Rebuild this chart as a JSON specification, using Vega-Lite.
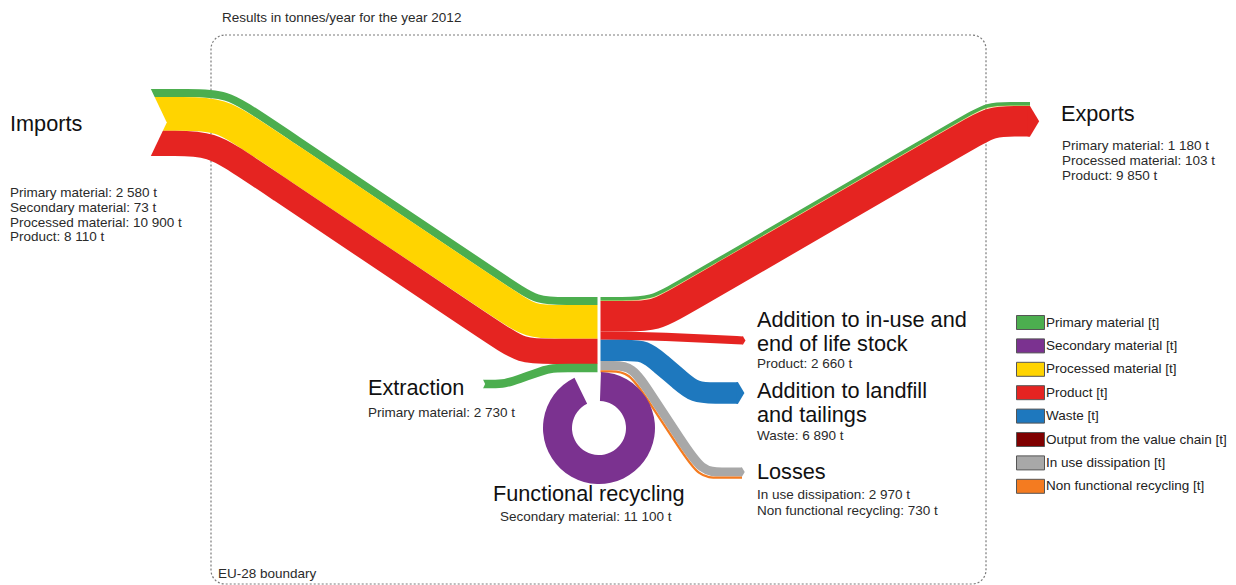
{
  "$schema": "https://vega.github.io/schema/vega-lite/v6.json",
  "width": 1236,
  "height": 585,
  "autosize": {"type": "none"},
  "padding": 0,
  "background": "white",
  "config": {"view": {"stroke": null}, "font": "Liberation Sans"},
  "datasets": {
    "flows": [
      {"flow": "imp_g", "cat": "Primary material [t]", "t": 2580, "i": 0, "x": 150, "y": 93},
      {"flow": "imp_g", "cat": "Primary material [t]", "t": 2580, "i": 1, "x": 186.8, "y": 93},
      {"flow": "imp_g", "cat": "Primary material [t]", "t": 2580, "i": 2, "x": 226.8, "y": 93},
      {"flow": "imp_g", "cat": "Primary material [t]", "t": 2580, "i": 3, "x": 260, "y": 115.3},
      {"flow": "imp_g", "cat": "Primary material [t]", "t": 2580, "i": 4, "x": 511.9, "y": 284.3},
      {"flow": "imp_g", "cat": "Primary material [t]", "t": 2580, "i": 5, "x": 536.8, "y": 301},
      {"flow": "imp_g", "cat": "Primary material [t]", "t": 2580, "i": 6, "x": 566.8, "y": 301},
      {"flow": "imp_g", "cat": "Primary material [t]", "t": 2580, "i": 7, "x": 597.5, "y": 301},
      {"flow": "imp_y", "cat": "Processed material [t]", "t": 10900, "i": 0, "x": 150, "y": 113.9},
      {"flow": "imp_y", "cat": "Processed material [t]", "t": 10900, "i": 1, "x": 180.5, "y": 113.9},
      {"flow": "imp_y", "cat": "Processed material [t]", "t": 10900, "i": 2, "x": 220.5, "y": 113.9},
      {"flow": "imp_y", "cat": "Processed material [t]", "t": 10900, "i": 3, "x": 253.7, "y": 136.2},
      {"flow": "imp_y", "cat": "Processed material [t]", "t": 10900, "i": 4, "x": 505.6, "y": 305.2},
      {"flow": "imp_y", "cat": "Processed material [t]", "t": 10900, "i": 5, "x": 530.5, "y": 321.9},
      {"flow": "imp_y", "cat": "Processed material [t]", "t": 10900, "i": 6, "x": 560.5, "y": 321.9},
      {"flow": "imp_y", "cat": "Processed material [t]", "t": 10900, "i": 7, "x": 597.5, "y": 321.9},
      {"flow": "imp_r", "cat": "Product [t]", "t": 8110, "i": 0, "x": 150, "y": 143.4},
      {"flow": "imp_r", "cat": "Product [t]", "t": 8110, "i": 1, "x": 171.5, "y": 143.4},
      {"flow": "imp_r", "cat": "Product [t]", "t": 8110, "i": 2, "x": 211.5, "y": 143.4},
      {"flow": "imp_r", "cat": "Product [t]", "t": 8110, "i": 3, "x": 244.7, "y": 165.7},
      {"flow": "imp_r", "cat": "Product [t]", "t": 8110, "i": 4, "x": 496.6, "y": 334.7},
      {"flow": "imp_r", "cat": "Product [t]", "t": 8110, "i": 5, "x": 521.5, "y": 351.4},
      {"flow": "imp_r", "cat": "Product [t]", "t": 8110, "i": 6, "x": 551.5, "y": 351.4},
      {"flow": "imp_r", "cat": "Product [t]", "t": 8110, "i": 7, "x": 597.5, "y": 351.4},
      {"flow": "extr", "cat": "Primary material [t]", "t": 2730, "i": 0, "x": 483, "y": 384},
      {"flow": "extr", "cat": "Primary material [t]", "t": 2730, "i": 1, "x": 490, "y": 384},
      {"flow": "extr", "cat": "Primary material [t]", "t": 2730, "i": 2, "x": 505, "y": 384},
      {"flow": "extr", "cat": "Primary material [t]", "t": 2730, "i": 3, "x": 520, "y": 378.7},
      {"flow": "extr", "cat": "Primary material [t]", "t": 2730, "i": 4, "x": 535, "y": 373.4},
      {"flow": "extr", "cat": "Primary material [t]", "t": 2730, "i": 5, "x": 550, "y": 368.1},
      {"flow": "extr", "cat": "Primary material [t]", "t": 2730, "i": 6, "x": 565, "y": 368.1},
      {"flow": "extr", "cat": "Primary material [t]", "t": 2730, "i": 7, "x": 597.5, "y": 368.1},
      {"flow": "exp_g", "cat": "Primary material [t]", "t": 1180, "i": 0, "x": 600.5, "y": 298.8},
      {"flow": "exp_g", "cat": "Primary material [t]", "t": 1180, "i": 1, "x": 620.5, "y": 298.8},
      {"flow": "exp_g", "cat": "Primary material [t]", "t": 1180, "i": 2, "x": 650.5, "y": 298.8},
      {"flow": "exp_g", "cat": "Primary material [t]", "t": 1180, "i": 3, "x": 676.5, "y": 283.8},
      {"flow": "exp_g", "cat": "Primary material [t]", "t": 1180, "i": 4, "x": 965.1, "y": 116.4},
      {"flow": "exp_g", "cat": "Primary material [t]", "t": 1180, "i": 5, "x": 986.7, "y": 103.8},
      {"flow": "exp_g", "cat": "Primary material [t]", "t": 1180, "i": 6, "x": 1011.7, "y": 103.8},
      {"flow": "exp_g", "cat": "Primary material [t]", "t": 1180, "i": 7, "x": 1030, "y": 103.8},
      {"flow": "exp_y", "cat": "Processed material [t]", "t": 103, "i": 0, "x": 600.5, "y": 300.8},
      {"flow": "exp_y", "cat": "Processed material [t]", "t": 103, "i": 1, "x": 621, "y": 300.8},
      {"flow": "exp_y", "cat": "Processed material [t]", "t": 103, "i": 2, "x": 651, "y": 300.8},
      {"flow": "exp_y", "cat": "Processed material [t]", "t": 103, "i": 3, "x": 677, "y": 285.8},
      {"flow": "exp_y", "cat": "Processed material [t]", "t": 103, "i": 4, "x": 965.6, "y": 118.4},
      {"flow": "exp_y", "cat": "Processed material [t]", "t": 103, "i": 5, "x": 987.2, "y": 105.8},
      {"flow": "exp_y", "cat": "Processed material [t]", "t": 103, "i": 6, "x": 1012.2, "y": 105.8},
      {"flow": "exp_y", "cat": "Processed material [t]", "t": 103, "i": 7, "x": 1030, "y": 105.8},
      {"flow": "exp_r", "cat": "Product [t]", "t": 9850, "i": 0, "x": 600.5, "y": 316.3},
      {"flow": "exp_r", "cat": "Product [t]", "t": 9850, "i": 1, "x": 625.2, "y": 316.3},
      {"flow": "exp_r", "cat": "Product [t]", "t": 9850, "i": 2, "x": 655.2, "y": 316.3},
      {"flow": "exp_r", "cat": "Product [t]", "t": 9850, "i": 3, "x": 681.1, "y": 301.2},
      {"flow": "exp_r", "cat": "Product [t]", "t": 9850, "i": 4, "x": 969.8, "y": 133.8},
      {"flow": "exp_r", "cat": "Product [t]", "t": 9850, "i": 5, "x": 991.4, "y": 121.3},
      {"flow": "exp_r", "cat": "Product [t]", "t": 9850, "i": 6, "x": 1016.4, "y": 121.3},
      {"flow": "exp_r", "cat": "Product [t]", "t": 9850, "i": 7, "x": 1030, "y": 121.3},
      {"flow": "stock", "cat": "Product [t]", "t": 2660, "i": 0, "x": 600.5, "y": 335.6},
      {"flow": "stock", "cat": "Product [t]", "t": 2660, "i": 1, "x": 630, "y": 335.6},
      {"flow": "stock", "cat": "Product [t]", "t": 2660, "i": 2, "x": 665, "y": 336.6},
      {"flow": "stock", "cat": "Product [t]", "t": 2660, "i": 3, "x": 705, "y": 338.8},
      {"flow": "stock", "cat": "Product [t]", "t": 2660, "i": 4, "x": 743, "y": 340.5},
      {"flow": "waste", "cat": "Waste [t]", "t": 6890, "i": 0, "x": 600.5, "y": 350.4},
      {"flow": "waste", "cat": "Waste [t]", "t": 6890, "i": 1, "x": 625, "y": 350.4},
      {"flow": "waste", "cat": "Waste [t]", "t": 6890, "i": 2, "x": 645, "y": 350.4},
      {"flow": "waste", "cat": "Waste [t]", "t": 6890, "i": 3, "x": 660.2, "y": 363.4},
      {"flow": "waste", "cat": "Waste [t]", "t": 6890, "i": 4, "x": 679.8, "y": 380},
      {"flow": "waste", "cat": "Waste [t]", "t": 6890, "i": 5, "x": 695, "y": 393},
      {"flow": "waste", "cat": "Waste [t]", "t": 6890, "i": 6, "x": 715, "y": 393},
      {"flow": "waste", "cat": "Waste [t]", "t": 6890, "i": 7, "x": 738, "y": 393},
      {"flow": "diss", "cat": "In use dissipation [t]", "t": 2970, "i": 0, "x": 600.5, "y": 365.7},
      {"flow": "diss", "cat": "In use dissipation [t]", "t": 2970, "i": 1, "x": 612, "y": 365.7},
      {"flow": "diss", "cat": "In use dissipation [t]", "t": 2970, "i": 2, "x": 632, "y": 365.7},
      {"flow": "diss", "cat": "In use dissipation [t]", "t": 2970, "i": 3, "x": 650, "y": 393},
      {"flow": "diss", "cat": "In use dissipation [t]", "t": 2970, "i": 4, "x": 682, "y": 441.6},
      {"flow": "diss", "cat": "In use dissipation [t]", "t": 2970, "i": 5, "x": 702, "y": 472},
      {"flow": "diss", "cat": "In use dissipation [t]", "t": 2970, "i": 6, "x": 722, "y": 472},
      {"flow": "diss", "cat": "In use dissipation [t]", "t": 2970, "i": 7, "x": 742, "y": 472},
      {"flow": "nfr", "cat": "Non functional recycling [t]", "t": 730, "i": 0, "x": 600.5, "y": 371.4},
      {"flow": "nfr", "cat": "Non functional recycling [t]", "t": 730, "i": 1, "x": 609, "y": 371.4},
      {"flow": "nfr", "cat": "Non functional recycling [t]", "t": 730, "i": 2, "x": 628.9, "y": 371.4},
      {"flow": "nfr", "cat": "Non functional recycling [t]", "t": 730, "i": 3, "x": 646.9, "y": 398.8},
      {"flow": "nfr", "cat": "Non functional recycling [t]", "t": 730, "i": 4, "x": 678.9, "y": 447.4},
      {"flow": "nfr", "cat": "Non functional recycling [t]", "t": 730, "i": 5, "x": 698.9, "y": 477.7},
      {"flow": "nfr", "cat": "Non functional recycling [t]", "t": 730, "i": 6, "x": 718.9, "y": 477.7},
      {"flow": "nfr", "cat": "Non functional recycling [t]", "t": 730, "i": 7, "x": 742, "y": 477.7}
    ],
    "tips": [
      {"cat": "Product [t]", "t": 9850, "x": 1030, "y": 121.3},
      {"cat": "Product [t]", "t": 2660, "x": 743, "y": 340.5},
      {"cat": "Waste [t]", "t": 6890, "x": 738, "y": 393},
      {"cat": "In use dissipation [t]", "t": 2970, "x": 742, "y": 472}
    ],
    "notches": [
      {"node": "Imports", "t": 21663, "x": 150, "y": 122.45},
      {"node": "Extraction", "t": 2730, "x": 483, "y": 384}
    ],
    "ring": [
      {"cat": "Secondary material [t]", "t": 11100, "x": 599, "y": 428, "a0": 2, "a1": 334}
    ],
    "boundary": [
      {"x": 211, "x2": 986, "y": 35, "y2": 584}
    ],
    "bigLabels": [
      {"text": "Imports", "x": 10, "y": 124},
      {"text": "Exports", "x": 1061, "y": 114},
      {"text": "Addition to in-use and", "x": 757, "y": 320},
      {"text": "end of life stock", "x": 757, "y": 344},
      {"text": "Addition to landfill", "x": 757, "y": 391},
      {"text": "and tailings", "x": 757, "y": 415},
      {"text": "Losses", "x": 757, "y": 472},
      {"text": "Extraction", "x": 368, "y": 388},
      {"text": "Functional recycling", "x": 493, "y": 494}
    ],
    "smallLabels": [
      {"text": "Primary material: 2 580 t", "x": 10, "y": 193},
      {"text": "Secondary material: 73 t", "x": 10, "y": 208},
      {"text": "Processed material: 10 900 t", "x": 10, "y": 223},
      {"text": "Product: 8 110 t", "x": 10, "y": 237},
      {"text": "Primary material: 1 180 t", "x": 1062, "y": 146},
      {"text": "Processed material: 103 t", "x": 1062, "y": 161},
      {"text": "Product: 9 850 t", "x": 1062, "y": 176},
      {"text": "Product: 2 660 t", "x": 757, "y": 364},
      {"text": "Waste: 6 890 t", "x": 757, "y": 436},
      {"text": "In use dissipation: 2 970 t", "x": 757, "y": 495},
      {"text": "Non functional recycling: 730 t", "x": 757, "y": 511},
      {"text": "Primary material: 2 730 t", "x": 368, "y": 413},
      {"text": "Secondary material: 11 100 t", "x": 500, "y": 517},
      {"text": "Results in tonnes/year for the year 2012", "x": 222, "y": 18},
      {"text": "EU-28 boundary", "x": 218, "y": 574}
    ]
  },
  "encoding": {
    "x": {"field": "x", "type": "quantitative", "scale": {"domain": [0, 1236], "nice": false, "zero": false}, "axis": null},
    "y": {"field": "y", "type": "quantitative", "scale": {"domain": [0, 585], "nice": false, "zero": false, "reverse": true}, "axis": null}
  },
  "resolve": {"legend": {"color": "independent", "size": "independent", "strokeWidth": "independent"}},
  "layer": [
    {
      "data": {"name": "boundary"},
      "mark": {"type": "rect", "fill": "white", "fillOpacity": 0, "stroke": "#7a7a7a", "strokeWidth": 1.2, "strokeDash": [2, 2], "cornerRadius": 14},
      "encoding": {
        "x2": {"field": "x2"},
        "y2": {"field": "y2"}
      }
    },
    {
      "data": {"name": "flows"},
      "mark": {"type": "line", "interpolate": "basis", "strokeCap": "butt", "strokeJoin": "round"},
      "encoding": {
        "detail": {"field": "flow"},
        "order": {"field": "i", "type": "quantitative"},
        "color": {"field": "cat", "type": "nominal", "legend": null,
          "scale": {"domain": ["Primary material [t]", "Secondary material [t]", "Processed material [t]", "Product [t]", "Waste [t]", "Output from the value chain [t]", "In use dissipation [t]", "Non functional recycling [t]"],
                    "range": ["#4cae4f", "#7b3290", "#ffd400", "#e52421", "#1e78be", "#7f0000", "#a8a8a8", "#f47b20"]}},
        "strokeWidth": {"field": "t", "type": "quantitative", "legend": null, "scale": {"domain": [0, 10000], "range": [0, 31], "zero": true}}
      }
    },
    {
      "data": {"name": "tips"},
      "mark": {"type": "point", "filled": true, "opacity": 1, "shape": "M-0.15,-1L0,-1L0.6,0L0,1L-0.15,1Z"},
      "encoding": {
        "color": {"field": "cat", "type": "nominal", "legend": null},
        "size": {"field": "t", "type": "quantitative", "legend": null, "scale": {"type": "pow", "exponent": 2, "domain": [0, 10000], "range": [0, 961]}}
      }
    },
    {
      "data": {"name": "notches"},
      "mark": {"type": "point", "filled": true, "opacity": 1, "color": "white", "shape": "M-0.1,-1.05L0,-1.05L0.5,0L0,1.05L-0.1,1.05Z"},
      "encoding": {
        "size": {"field": "t", "type": "quantitative", "legend": null}
      }
    },
    {
      "data": {"name": "ring"},
      "mark": {"type": "arc", "radius": 56, "radius2": 27},
      "encoding": {
        "theta": {"field": "a0", "type": "quantitative", "stack": null, "scale": {"domain": [0, 360], "range": [0, 6.283185307]}},
        "theta2": {"field": "a1"},
        "color": {"field": "cat", "type": "nominal",
          "legend": {"orient": "none", "legendX": 1023, "legendY": 315, "title": null, "padding": 0,
            "symbolType": "M-2,-1L2,-1L2,1L-2,1Z", "symbolSize": 196, "symbolStrokeColor": "#555555", "symbolStrokeWidth": 1,
            "labelFontSize": 13.5, "labelFont": "Liberation Sans", "labelColor": "#222222", "labelOffset": 8, "labelLimit": 400, "rowPadding": 4.4}}
      }
    },
    {
      "data": {"name": "bigLabels"},
      "mark": {"type": "text", "align": "left", "baseline": "middle", "fontSize": 21.7, "color": "#111111"},
      "encoding": {"text": {"field": "text"}}
    },
    {
      "data": {"name": "smallLabels"},
      "mark": {"type": "text", "align": "left", "baseline": "middle", "fontSize": 13.5, "color": "#2a2a2a"},
      "encoding": {"text": {"field": "text"}}
    }
  ]
}
